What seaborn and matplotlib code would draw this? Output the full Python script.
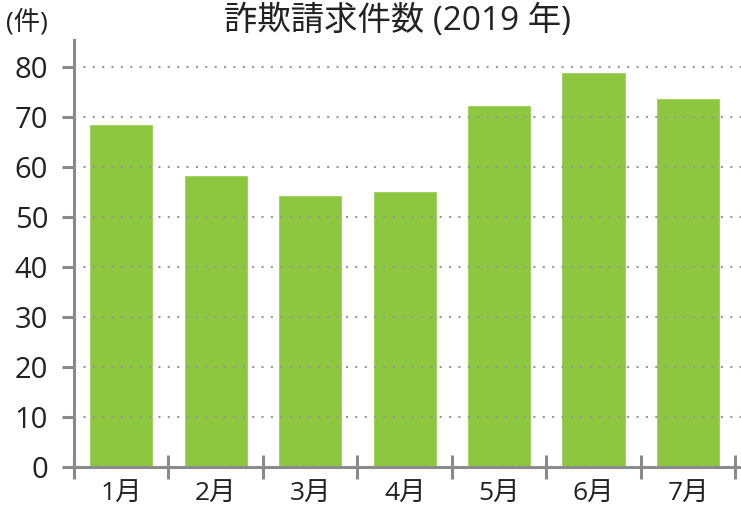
import matplotlib
matplotlib.use("Agg")
import matplotlib.pyplot as plt
import seaborn as sns
import pandas as pd
from matplotlib.ticker import FixedLocator

# --- datos ---
meses = ["1月", "2月", "3月", "4月", "5月", "6月", "7月"]
casos = [68.6, 58.4, 54.4, 55.2, 72.4, 79.0, 73.8]
y_ticks = [0, 10, 20, 30, 40, 50, 60, 70, 80]
titulo = "詐欺請求件数 (2019 年)"
unidad = "(件)"

sns.set_theme(style="white")
plt.rcParams["font.family"] = ["Open Sans", "Noto Sans CJK JP", "DejaVu Sans"]

df = pd.DataFrame({"mes": meses, "casos": casos})

fig = plt.figure(figsize=(7.41, 5.11), dpi=100)
ax = fig.add_axes([74 / 741, 1 - 467 / 511, 1 - 74 / 741, (467 - 40) / 511])

sns.barplot(data=df, x="mes", y="casos", color="#8DC63F", saturation=1,
            width=0.68, ax=ax)

ax.set_ylim(0, 85.4)
ax.set_xlim(-0.5, 6.56)
ax.set_xlabel("")
ax.set_ylabel("")
ax.set_yticks(y_ticks)

gris = "#8a8a8a"
for lado in ["top", "right"]:
    ax.spines[lado].set_visible(False)
for lado in ["left", "bottom"]:
    ax.spines[lado].set_color(gris)
    ax.spines[lado].set_linewidth(2.2)

# lineas punteadas por encima de las barras
ax.set_axisbelow(False)
ax.yaxis.grid(True, color="#999999", linestyle=(0, (1, 3.5)), linewidth=1.5)
ax.xaxis.grid(False)

ax.tick_params(axis="y", which="major", direction="out", length=8.6, width=2.2,
               color=gris, labelsize=21, labelcolor="#222222", pad=10, left=True)
ax.tick_params(axis="x", which="major", length=0, labelsize=19,
               labelcolor="#222222", pad=11)
ax.xaxis.set_minor_locator(FixedLocator([i - 0.5 for i in range(len(meses) + 1)]))
ax.tick_params(axis="x", which="minor", direction="inout", length=17, width=2.2,
               color=gris, bottom=True)

fig.text(0.536, 1 - 30 / 511, titulo, ha="center", va="baseline",
         fontsize=24, color="#222222")
fig.text(6 / 741, 1 - 22 / 511, unidad, ha="left", va="center",
         fontsize=19, color="#222222")

plt.savefig("out.png", dpi=100)
plt.close()
